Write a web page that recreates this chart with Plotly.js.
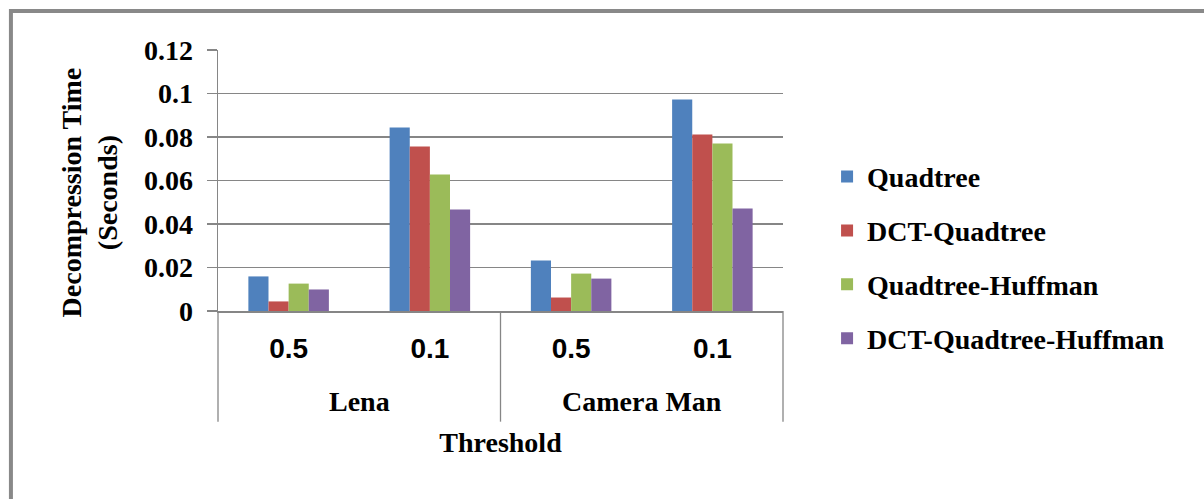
<!DOCTYPE html>
<html>
<head>
<meta charset="utf-8">
<script src="https://cdn.plot.ly/plotly-3.0.1.min.js"></script>
<style>
  html, body { margin: 0; padding: 0; background: #ffffff; }
  #chart { width: 1204px; height: 499px; }
</style>
</head>
<body>
<div id="chart"></div>
<script>
// Decompression time per method, grouped by image and threshold
const images = ["Lena", "Lena", "Camera Man", "Camera Man"];
const thresholds = ["0.5", "0.1", "0.5", "0.1"];

const seriesNames = ["Quadtree", "DCT-Quadtree", "Quadtree-Huffman", "DCT-Quadtree-Huffman"];
const quadtree = [0.0159, 0.0844, 0.0232, 0.0972];
const dctQuadtree = [0.0044, 0.0756, 0.0062, 0.0811];
const quadtreeHuffman = [0.0126, 0.0628, 0.0172, 0.0770];
const dctQuadtreeHuffman = [0.0099, 0.0467, 0.0149, 0.0471];

const seriesValues = [quadtree, dctQuadtree, quadtreeHuffman, dctQuadtreeHuffman];
const seriesColors = ["#4F81BD", "#C0504D", "#9BBB59", "#8064A2"];

const serif = "Liberation Serif, Times New Roman, serif";
const sans = "Liberation Sans, Arial, sans-serif";
const gridGrey = "#868686";

const positions = thresholds.map((_, i) => i);

const traces = seriesValues.map((vals, s) => ({
  type: "bar",
  name: seriesNames[s],
  legendgroup: seriesNames[s],
  x: positions,
  y: vals,
  marker: { color: seriesColors[s], line: { width: 0 } },
  hoverinfo: "name+y"
}));

// group labels (image names) centred under their threshold pairs
const groups = [];
images.forEach((img, i) => {
  const last = groups[groups.length - 1];
  if (last && last.name === img) { last.end = i; }
  else { groups.push({ name: img, start: i, end: i }); }
});

const nCat = positions.length;
const annotations = groups.map(g => ({
  text: "<b>" + g.name + "</b>",
  xref: "x", yref: "paper",
  x: (g.start + g.end) / 2, y: -0.347,
  showarrow: false,
  font: { family: serif, size: 28, color: "#000000" },
  xanchor: "center", yanchor: "middle"
}));

annotations.push({
  text: "<b>Decompression Time</b><br><b>(Seconds)</b>",
  xref: "paper", yref: "paper",
  x: -0.228, y: 0.455,
  textangle: -90,
  showarrow: false,
  font: { family: serif, size: 28, color: "#000000" },
  xanchor: "center", yanchor: "middle"
});

// divider lines between image groups, running from the axis down past the labels
const boundaries = [0];
groups.forEach(g => boundaries.push((g.end + 1) / nCat));
const shapes = boundaries.map(b => ({
  type: "line", xref: "paper", yref: "paper",
  x0: b, x1: b, y0: 0, y1: -0.424,
  line: { color: gridGrey, width: 1.3 }
}));

// outer chart frame
shapes.push({
  type: "rect", xref: "paper", yref: "paper",
  x0: -0.3665, x1: 1.8, y0: -0.8, y1: 1.1495,
  line: { color: "#898989", width: 4 },
  fillcolor: "rgba(0,0,0,0)"
});

const layout = {
  width: 1204, height: 499,
  margin: { l: 218, r: 421, t: 50, b: 188, pad: 0 },
  paper_bgcolor: "#ffffff",
  plot_bgcolor: "#ffffff",
  barmode: "group",
  bargap: 0.43,
  bargroupgap: 0,
  showlegend: true,
  legend: {
    x: 1.078, y: 0.61, xanchor: "left", yanchor: "top",
    font: { family: serif, size: 28, color: "#000000", weight: "bold" },
    tracegroupgap: 14.5,
    bgcolor: "rgba(0,0,0,0)"
  },
  xaxis: {
    range: [-0.5, nCat - 0.5],
    tickmode: "array",
    tickvals: positions,
    ticktext: thresholds.map(t => "<b>" + t + "</b>"),
    tickfont: { family: sans, size: 28, color: "#000000" },
    ticks: "",
    ticklabelstandoff: 11,
    showline: true, linecolor: gridGrey, linewidth: 2,
    showgrid: false, zeroline: false, fixedrange: true,
    title: {
      text: "<b>Threshold</b>",
      font: { family: serif, size: 28, color: "#000000" },
      standoff: 70
    },
    automargin: false
  },
  yaxis: {
    range: [0, 0.12],
    dtick: 0.02,
    tick0: 0,
    tickprefix: "<b>", ticksuffix: "</b>",
    tickfont: { family: serif, size: 28, color: "#000000" },
    ticks: "outside", ticklen: 10, tickcolor: gridGrey, tickwidth: 1.5,
    ticklabelstandoff: 8,
    showgrid: true, gridcolor: gridGrey, gridwidth: 1.6,
    showline: true, linecolor: gridGrey, linewidth: 1.3,
    zeroline: false, fixedrange: true,
    automargin: false
  },
  annotations: annotations,
  shapes: shapes,
  font: { family: serif, color: "#000000" }
};

Plotly.newPlot("chart", traces, layout, { staticPlot: true, displayModeBar: false });
</script>
</body>
</html>
